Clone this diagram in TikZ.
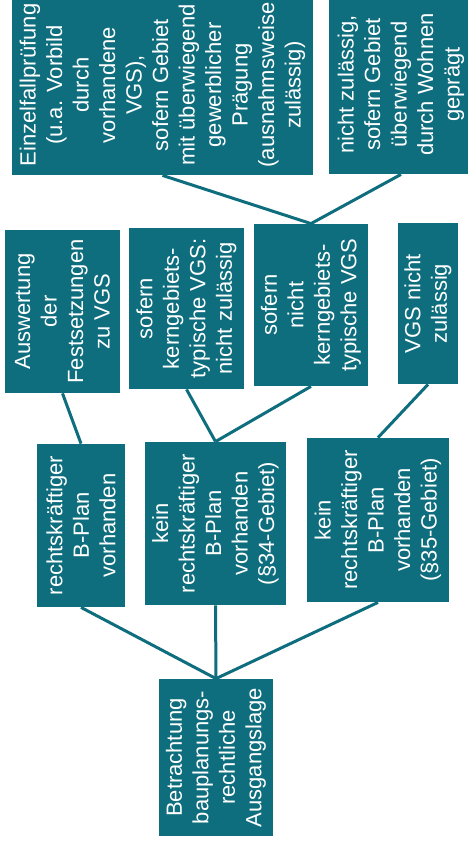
\documentclass[tikz,border=0pt]{standalone}
\usepackage{fontspec}
\setmainfont{Liberation Sans}
\usetikzlibrary{arrows}
\definecolor{petrol}{RGB}{14,110,126}

\begin{document}
\begin{tikzpicture}[x=1pt,y=-1pt,thick,
                every edge/.style={draw=petrol,line width=3pt},
                box node/.style={rectangle,fill=petrol,text=white,rotate=90,inner sep=0pt,
                                 align=center,font=\fontsize{22}{26.5}\selectfont}]
                \path[use as bounding box,fill=white] (0,0) rectangle (467,846);
                % Ausgangslage
                \node[box node,minimum width=157pt,minimum height=114pt] (0) at (216,757.5)
                    {Betrachtung\\bauplanungs-\\rechtliche\\Ausgangslage};
                \node[box node,minimum width=163pt,minimum height=88pt] (1) at (81,525.5)
                    {rechtskräftiger\\B-Plan\\vorhanden};
                \node[box node,minimum width=163pt,minimum height=141pt] (2) at (215.5,523.5)
                    {kein\\rechtskräftiger\\B-Plan\\vorhanden\\(§34-Gebiet)};
                \node[box node,minimum width=164pt,minimum height=142pt] (3) at (378,520)
                    {kein\\rechtskräftiger\\B-Plan\\vorhanden\\(§35-Gebiet)};
                % zweite Ebene
                \node[box node,minimum width=163pt,minimum height=115pt] (4) at (62.5,311.5)
                    {Auswertung\\der\\Festsetzungen\\zu VGS};
                \node[box node,minimum width=161pt,minimum height=115pt] (5) at (186.5,308.5)
                    {sofern\\kerngebiets-\\typische VGS:\\nicht zulässig};
                \node[box node,minimum width=162pt,minimum height=114pt] (6) at (311,305)
                    {sofern\\nicht\\kerngebiets-\\typische VGS};
                \node[box node,minimum width=161pt,minimum height=60pt] (7) at (428,303.5)
                    {VGS nicht\\zulässig};
                % dritte Ebene
                \node[box node,minimum width=180pt,minimum height=301pt] (8) at (162.5,85)
                    {Einzelfallprüfung\\(u.a. Vorbild\\durch\\vorhandene\\VGS),\\sofern Gebiet\\mit überwiegend\\gewerblicher\\Prägung\\(ausnahmsweise\\zulässig)};
                \node[box node,minimum width=179pt,minimum height=144pt] (9) at (401,84.5)
                    {nicht zulässig,\\sofern Gebiet\\überwiegend\\durch Wohnen\\geprägt};

                \path
                (0.east) edge (1.west)
                (0.east) edge (2.west)
                (0.east) edge (3.west)
                (1.east) edge (4.west)
                (2.east) edge (5.west)
                (2.east) edge (6.west)
                (3.east) edge (7.west)
                (6.east) edge (8.west)
                (6.east) edge (9.west)
                ;
\end{tikzpicture}
\end{document}
